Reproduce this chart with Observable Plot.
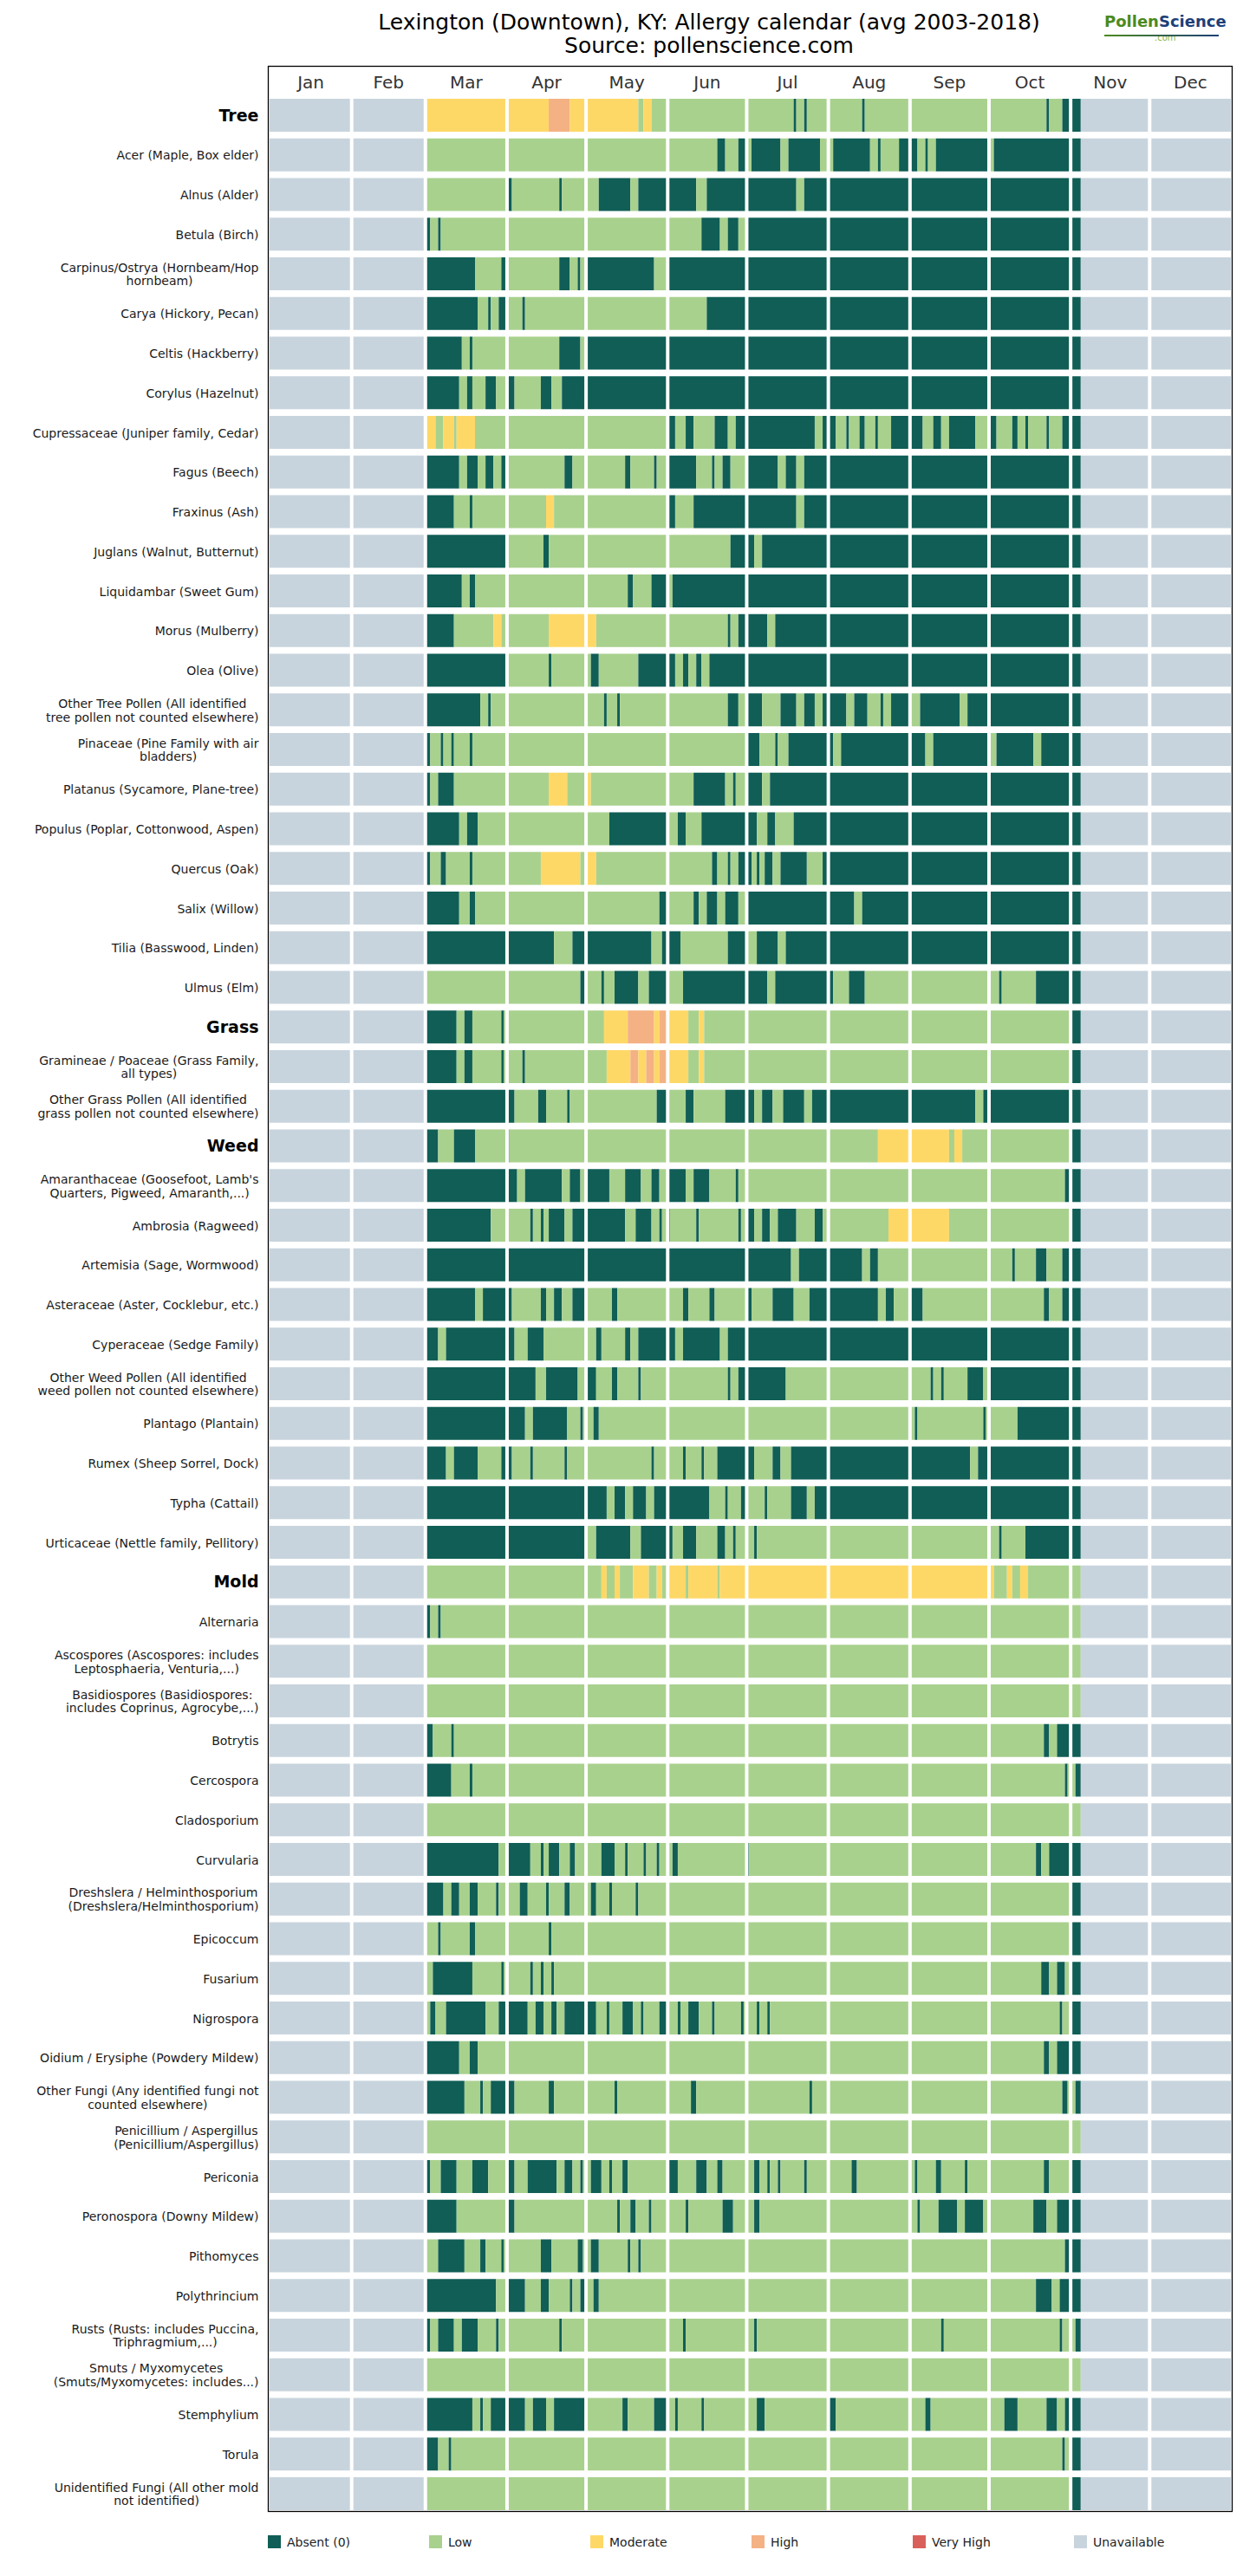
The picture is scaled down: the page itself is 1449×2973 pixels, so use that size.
<!DOCTYPE html>
<html>
<head>
<meta charset="utf-8">
<script src="https://cdn.jsdelivr.net/npm/d3@7"></script>
<script src="https://cdn.jsdelivr.net/npm/@observablehq/plot@0.6"></script>
<style>
  body { margin: 0; background: #fff; font-family: "DejaVu Sans", sans-serif; }
  #page { position: relative; width: 1449px; height: 2973px; overflow: hidden; }
  .title { position: absolute; left: 818px; transform: translateX(-50%); white-space: nowrap; font-size: 25px; color: #000; line-height: 30px; }
  #chart { position: absolute; left: 0; top: 70px; }
  #logo { position: absolute; left: 1274px; top: 14px; font-weight: bold; font-size: 18px; line-height: 22px; }
  #logo .p { color: #4b8a1e; } #logo .s { color: #1d3f78; }
  #logo .com { position: absolute; left: 58px; top: 19px; font-size: 10px; font-weight: normal; color: #8bb33a; }
  #logo .bar { position: absolute; left: 0; top: 26px; width: 132px; height: 2px; background: linear-gradient(90deg,#4b8a1e,#1d3f78); }
  .leg { position: absolute; top: 2926px; font-size: 14px; line-height: 16px; color: #222; white-space: nowrap; }
  .leg span.sw { display: inline-block; width: 15px; height: 15px; vertical-align: -2px; margin-right: 7px; }
</style>
</head>
<body>
<div id="page">
  <div class="title" style="top:11px">Lexington (Downtown), KY: Allergy calendar (avg 2003-2018)</div>
  <div class="title" style="top:38px">Source: pollenscience.com</div>
  <div id="logo"><span class="p">Pollen</span><span class="s">Science</span><span class="com">.com</span><div class="bar"></div></div>
  <div id="chart"></div>
  <div id="legend"></div>
</div>
<script>
// ---------- DATA ----------
const categories = [
  "Tree",
  "Acer (Maple, Box elder)",
  "Alnus (Alder)",
  "Betula (Birch)",
  "Carpinus/Ostrya (Hornbeam/Hop\nhornbeam)",
  "Carya (Hickory, Pecan)",
  "Celtis (Hackberry)",
  "Corylus (Hazelnut)",
  "Cupressaceae (Juniper family, Cedar)",
  "Fagus (Beech)",
  "Fraxinus (Ash)",
  "Juglans (Walnut, Butternut)",
  "Liquidambar (Sweet Gum)",
  "Morus (Mulberry)",
  "Olea (Olive)",
  "Other Tree Pollen (All identified\ntree pollen not counted elsewhere)",
  "Pinaceae (Pine Family with air\nbladders)",
  "Platanus (Sycamore, Plane-tree)",
  "Populus (Poplar, Cottonwood, Aspen)",
  "Quercus (Oak)",
  "Salix (Willow)",
  "Tilia (Basswood, Linden)",
  "Ulmus (Elm)",
  "Grass",
  "Gramineae / Poaceae (Grass Family,\nall types)",
  "Other Grass Pollen (All identified\ngrass pollen not counted elsewhere)",
  "Weed",
  "Amaranthaceae (Goosefoot, Lamb's\nQuarters, Pigweed, Amaranth,...)",
  "Ambrosia (Ragweed)",
  "Artemisia (Sage, Wormwood)",
  "Asteraceae (Aster, Cocklebur, etc.)",
  "Cyperaceae (Sedge Family)",
  "Other Weed Pollen (All identified\nweed pollen not counted elsewhere)",
  "Plantago (Plantain)",
  "Rumex (Sheep Sorrel, Dock)",
  "Typha (Cattail)",
  "Urticaceae (Nettle family, Pellitory)",
  "Mold",
  "Alternaria",
  "Ascospores (Ascospores: includes\nLeptosphaeria, Venturia,...)",
  "Basidiospores (Basidiospores:\nincludes Coprinus, Agrocybe,...)",
  "Botrytis",
  "Cercospora",
  "Cladosporium",
  "Curvularia",
  "Dreshslera / Helminthosporium\n(Dreshslera/Helminthosporium)",
  "Epicoccum",
  "Fusarium",
  "Nigrospora",
  "Oidium / Erysiphe (Powdery Mildew)",
  "Other Fungi (Any identified fungi not\ncounted elsewhere)",
  "Penicillium / Aspergillus\n(Penicillium/Aspergillus)",
  "Periconia",
  "Peronospora (Downy Mildew)",
  "Pithomyces",
  "Polythrincium",
  "Rusts (Rusts: includes Puccina,\nTriphragmium,...)",
  "Smuts / Myxomycetes\n(Smuts/Myxomycetes: includes...)",
  "Stemphylium",
  "Torula",
  "Unidentified Fungi (All other mold\nnot identified)"
];
const groupHeaders = ["Tree", "Grass", "Weed", "Mold"];

// Each entry: change points "dayOfYear + level code" (A=Absent, L=Low, M=Moderate, H=High, V=Very High)
const runs = [
  "59M 106H 114M 140L 142M 145L 199A 200L 203A 204L 225A 226L 295A 296L 301A",
  "59L 170A 173L 178A 181L 183A 194L 197A 209L 214A 228L 231A 232L 239A 246L 249A 250L 253A 273L 275A",
  "59L 90A 92L 110A 111L 125A 137L 140A 162L 166A 200L 203A",
  "59A 61L 64A 65L 164A 171L 174A 178L 181A",
  "59A 78L 88A 90L 110A 114L 117A 118L 120A 146L 151A",
  "59A 79L 83A 84L 87A 90L 96A 97L 166A",
  "59A 73L 76A 77L 110A 118L 120A",
  "59A 72L 75A 77L 82A 86L 90A 93L 103A 107L 111A",
  "59M 63L 66M 70L 71M 78L 151A 154L 158A 161L 169A 174L 177A 207L 210A 215L 219A 220L 224A 226L 230A 231L 236A 248L 252A 255L 258A 268L 273A 276L 282A 284L 287A 288L 295A 296L 301A",
  "59A 72L 75A 79L 82A 85L 88A 90L 112A 115L 135A 137L 146A 147L 151A 162L 168A 169L 172A 175L 181A 193L 196A 200L 203A",
  "59A 70L 76A 77L 105M 108L 151A 154L 161A 200L 203A",
  "59A 90L 104A 106L 175A 184L 187A",
  "59A 73L 76A 78L 136A 138L 145A 151L 153A",
  "59A 70L 85M 88L 106M 124L 174A 175L 178A 189L 192A",
  "59A 90L 106A 107L 122A 125L 140A 154L 157A 159L 162A 164L 167A",
  "59A 80L 83A 84L 127A 128L 132A 133L 174A 178L 181A 187L 194A 200L 203A 207L 210A 219L 222A 227L 232A 233L 236A 243L 247A 262L 265A",
  "59A 61L 65A 66L 69A 70L 76A 77L 181A 186L 192A 193L 197A 214L 217A 249L 252A 273L 276A 290L 293A",
  "59A 61L 64A 70L 106M 113L 120M 122L 161A 173L 176A 177L 181A 187L 190A",
  "59A 72L 75A 79L 129A 151L 155A 158L 164A 185L 189A 192L 199A",
  "59A 61L 65A 67L 76A 77L 103M 118L 120M 124L 168A 170L 174A 175L 178A 183L 185A 186L 188A 191L 194A 204L 210A",
  "59A 72L 76A 78L 148A 151L 161A 163L 166A 170L 173A 178L 181A 222L 225A",
  "59A 108L 115A 145L 149A 156L 174A 181L 185A 193L 196A",
  "59L 118A 120L 126A 127L 131A 140L 144A 151L 157A 189L 192A 214L 220A 226L 277A 278L 291A",
  "59A 71L 74A 77L 88A 89L 127M 136H 146M 148H 151M 159L 163M 165L 304A",
  "59A 71L 74A 77L 88A 89L 96A 97L 128M 137H 140M 143H 146M 148H 151M 159L 163M 165L 304A",
  "59A 93L 102A 105L 113A 114L 147A 151L 158A 161L 173A 184L 187A 191L 195A 203L 206A 268L 271A",
  "59A 64L 70A 78L 90A 91L 231M 258L 260M 263L 304A",
  "59A 94L 97A 111L 114A 118L 120A 129L 135A 141L 145A 148L 151A 158L 161A 167L 177A 178L 302A",
  "59A 84L 99A 100L 103A 104L 106A 112L 115A 135L 139A 145L 148A 149L 151A 152L 162A 163L 178A 179L 181A 184L 187A 190L 193A 200L 207A 210L 235M 258L 304A",
  "59A 198L 201A 225L 228A 231L 282A 283L 291A 295L 301A",
  "59A 78L 81A 92L 103A 105L 108A 111L 115A 120L 130A 132L 157A 159L 167A 169L 181A 183L 191A 199L 205A 231L 234A 237L 243A 248L 294A 296L 301A",
  "59A 64L 67A 93L 98A 104L 124A 126L 135A 137L 140A 154L 157A 171L 174A",
  "59A 101L 105A 117L 120A 124L 130A 132L 140A 141L 174A 175L 178A 196L 251A 252L 255A 256L 265A 271L 273A",
  "59A 97L 100A 113L 118A 119L 123A 125L 245A 246L 271A 272L 284A",
  "59A 67L 70A 79L 88A 92L 99A 100L 112A 113L 145A 146L 157A 158L 164A 165L 170A 184L 191A 194L 198A 266L 269A",
  "59A 128L 131A 135L 138A 143L 146A 167L 173A 174L 179A 181L 188A 189L 198A 204L 207A",
  "59A 120L 124A 137L 141A 153L 157A 162L 170A 173L 176A 177L 184A 185L 277A 278L 287A",
  "59L 126M 128L 131M 133L 138M 144L 147M 149L 151M 158L 159M 170L 171M 275L 280M 282L 285M 288L",
  "59A 61L 64A 65L",
  "59L",
  "59L",
  "59A 62L 69A 70L 294A 296L 299A",
  "59A 69L 76A 77L 302A 303L 306A",
  "59L",
  "59A 87L 90A 99L 103A 104L 106A 110L 114A 116L 126A 131L 135A 136L 142A 143L 147A 148L 153A 155L 181A 182L 291A 293L 296A",
  "59A 66L 69A 72L 76A 79L 86A 87L 95A 98L 105A 106L 112A 114L 122A 124L 129A 130L 139A 140L 304A",
  "59L 64A 65L 76A 78L 106A 107L 304A",
  "59L 62A 77L 88A 89L 99A 100L 103A 104L 107A 108L 293A 296L 299A 302L 304A",
  "59L 61A 63L 67A 82L 87A 98L 101A 104L 107A 109L 112A 124L 128A 129L 134A 138L 141A 142L 148A 151L 155A 156L 159A 163L 168A 169L 179A 180L 185A 186L 189A 190L 300A 301L 304A",
  "59A 72L 76A 79L 294A 296L 299A",
  "59A 74L 80A 81L 84A 93L 106A 108L 131A 132L 160A 162L 205A 206L 301A 303L 306A",
  "59L",
  "59A 61L 65A 71L 77A 83L 90A 93L 98A 109L 112A 115L 118A 119L 122A 126L 129A 130L 134A 136L 151A 155L 162A 166L 170A 172L 184A 186L 189A 190L 193A 194L 203A 204L 221A 223L 245A 246L 253A 255L 264A 265L 294A 296L 304A",
  "59A 71L 90A 93L 132A 133L 137A 139L 144A 145L 158A 159L 172A 176L 184A 186L 246A 247L 254A 261L 264A 271L 290A 295L 299A",
  "59L 64A 74L 80A 82L 88A 89L 103A 107L 117A 119L 122A 125L 136A 137L 140A 141L 302A",
  "59A 86L 90A 97L 103A 106L 114A 115L 118A 120L 123A 125L 291A 297L 300A",
  "59A 61L 64A 70L 73A 79L 86A 87L 110A 111L 157A 158L 184A 185L 255A 256L 300A 301L 306A",
  "59L",
  "59A 77L 80A 81L 84A 97L 100A 105L 108A 120L 134A 136L 146A 151L 154A 155L 164A 165L 185A 188L 212A 215L 249A 251L 279A 284L 295A 299L 302A",
  "59A 64L 68A 69L 301A 302L 304A",
  "59L 304A"
];

const levels = ["Absent (0)", "Low", "Moderate", "High", "Very High", "Unavailable"];
const levelCodes = ["A", "L", "M", "H", "V", "U"];
const monthNames = ["Jan", "Feb", "Mar", "Apr", "May", "Jun", "Jul", "Aug", "Sep", "Oct", "Nov", "Dec"];
const monthDays = [31, 28, 31, 30, 31, 30, 31, 31, 30, 31, 30, 31];
const dataFirstDay = 59;   // Mar 1
const dataEndDay = 308;    // first unavailable day (Nov 5)
const yearDays = 365;

// ---------- STYLE ----------
const levelColors = ["#105e56", "#a9d18e", "#fed867", "#f4b183", "#d9605a", "#c8d4dd"];

// ---------- BUILD TABLES ----------
const segs = [];
categories.forEach((name, i) => {
  segs.push({name, x1: 0, x2: dataFirstDay, level: "Unavailable"});
  const pts = runs[i].trim().split(/\s+/).map(t => ({d: +t.slice(0, -1), c: t.slice(-1)}));
  pts.forEach((p, j) => {
    const end = j + 1 < pts.length ? pts[j + 1].d : dataEndDay;
    segs.push({name, x1: p.d, x2: end, level: levels[levelCodes.indexOf(p.c)]});
  });
  segs.push({name, x1: dataEndDay, x2: yearDays, level: "Unavailable"});
});

const monthStarts = d3.cumsum([0, ...monthDays.slice(0, -1)]);
const monthTable = monthNames.map((m, i) => ({name: m, start: monthStarts[i], mid: monthStarts[i] + monthDays[i] / 2}));

const H = 2850;
const chart = Plot.plot({
  width: 1449,
  height: H,
  marginLeft: 309,
  marginRight: 28,
  marginTop: 6,
  marginBottom: 22,
  style: {fontFamily: "DejaVu Sans", background: "white", overflow: "visible"},
  x: {domain: [0, yearDays], range: [311, 1420], axis: null},
  y: {domain: categories, range: [44, 2827], paddingInner: 0.169, paddingOuter: 0, axis: null},
  color: {domain: levels, range: levelColors},
  marks: [
    Plot.barX(segs, {x1: "x1", x2: "x2", y: "name", fill: "level"}),
    Plot.ruleX(monthTable.slice(1), {x: "start", stroke: "white", strokeWidth: 4}),
    Plot.text(monthTable, {x: "mid", text: "name", frameAnchor: "top", dy: 11, fontSize: 20, fill: "#333"}),
    Plot.text(categories.filter(c => !groupHeaders.includes(c)), {
      y: d => d, text: d => d, frameAnchor: "left", dx: -11, textAnchor: "end",
      fontSize: 14, fill: "#1a1a1a", lineHeight: 1.12
    }),
    Plot.text(groupHeaders, {
      y: d => d, text: d => d, frameAnchor: "left", dx: -11, textAnchor: "end",
      fontSize: 19, fontWeight: "bold", fill: "#000"
    }),
    Plot.frame({stroke: "black", strokeWidth: 1.3})
  ]
});
document.getElementById("chart").appendChild(chart);

// center the lines of multi-line labels within their right-aligned block
chart.querySelectorAll("text").forEach(t => {
  const spans = t.querySelectorAll("tspan");
  if (spans.length < 2) return;
  const w = Array.from(spans, s => s.getComputedTextLength());
  const W = Math.max(...w);
  spans.forEach((s, i) => s.setAttribute("x", -(W - w[i]) / 2));
});

// legend
const legend = document.getElementById("legend");
levels.forEach((lv, i) => {
  const d = document.createElement("div");
  d.className = "leg";
  d.style.left = (309 + i * 186) + "px";
  d.innerHTML = `<span class="sw" style="background:${levelColors[i]}"></span>${lv}`;
  legend.appendChild(d);
});
</script>
</body>
</html>
